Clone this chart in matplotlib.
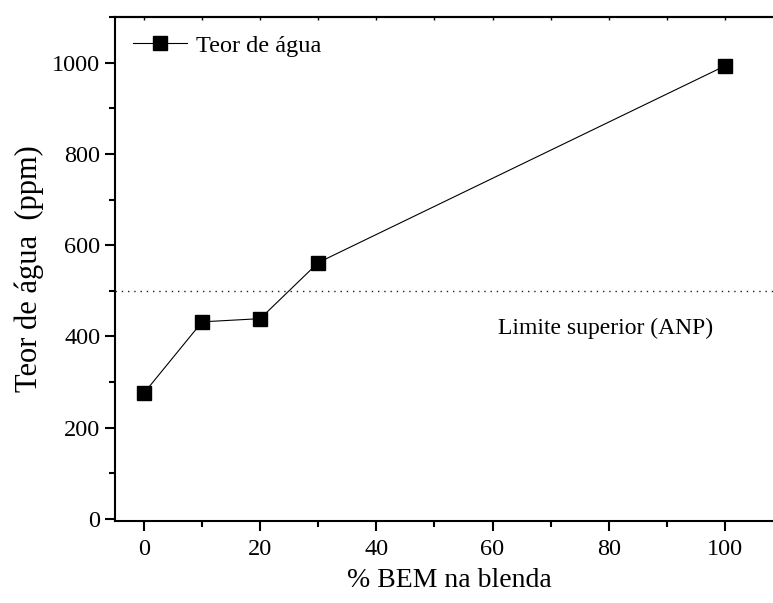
import matplotlib
matplotlib.use("Agg")
import matplotlib.pyplot as plt
from matplotlib.ticker import MultipleLocator

# dados
bem_pct = [0, 10, 20, 30, 100]
teor_agua = [276, 432, 439, 562, 993]
limite_anp = 500

plt.rcParams['font.family'] = ['Liberation Serif', 'DejaVu Serif']

fig = plt.figure(figsize=(7.73, 6.03), dpi=100)
ax = fig.add_axes([0.1488, 0.1365, 0.864, 0.835])

ax.plot(bem_pct, teor_agua, color='black', linewidth=0.8, marker='s',
        markersize=10.5, markerfacecolor='black', markeredgecolor='black',
        label='Teor de água')
ax.axhline(limite_anp, color='#222222', linewidth=1.0, dashes=(1, 3.5))
ax.text(79.5, 417, 'Limite superior (ANP)', ha='center', va='center', fontsize=17)

ax.set_xlim(-5, 110)
ax.set_ylim(-4, 1100)
ax.xaxis.set_major_locator(MultipleLocator(20))
ax.xaxis.set_minor_locator(MultipleLocator(10))
ax.yaxis.set_major_locator(MultipleLocator(200))
ax.yaxis.set_minor_locator(MultipleLocator(100))

ax.tick_params(which='both', direction='out', width=1.5, labelsize=17.5, top=False, right=False)
ax.tick_params(which='major', length=7)
ax.tick_params(which='minor', length=4.5)
ax.tick_params(axis='x', pad=6)
for s in ax.spines.values():
    s.set_linewidth(1.5)

# marcas pequenas no eixo superior
top = ax.secondary_xaxis('top')
top.xaxis.set_major_locator(MultipleLocator(10))
top.tick_params(direction='in', length=2, width=1, labeltop=False)
top.spines['top'].set_linewidth(1.5)

ax.set_xlabel('% BEM na blenda', fontsize=20, labelpad=6)
ax.set_ylabel('Teor de água  (ppm)', fontsize=22, labelpad=6)

ax.legend(loc='upper left', frameon=False, fontsize=17.5, handlelength=2.25,
          handletextpad=0.35, borderaxespad=0.42, borderpad=0.3)

fig.savefig('out.png', dpi=100)
